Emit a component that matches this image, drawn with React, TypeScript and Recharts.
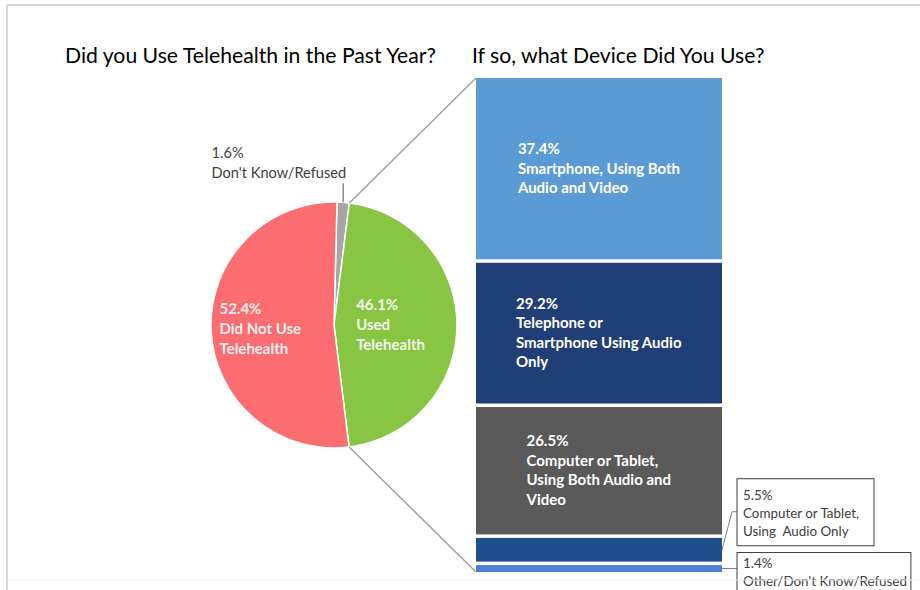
import React from 'react';
import { PieChart, Pie, Cell, BarChart, Bar, XAxis, YAxis, LabelList } from 'recharts';

// ---------- data ----------
const pieNames = ["Don't Know/Refused", 'Did Not Use\nTelehealth', 'Used\nTelehealth'];
const pieKeys = ['dk', 'notUsed', 'used'];
const pieValues = [1.6, 52.4, 46.1];
const pieColors = ['#A6A6A6', '#FB6D70', '#88C542'];

const deviceNames = [
  'Smartphone, Using Both\nAudio and Video',
  'Telephone or\nSmartphone Using Audio\nOnly',
  'Computer or Tablet,\nUsing Both Audio and\nVideo',
  'Computer or Tablet,\nUsing  Audio Only',
  "Other/Don't Know/Refused",
];
const deviceValues = [37.4, 29.2, 26.5, 5.5, 1.4];
const deviceColors = ['#5B9BD5', '#213F77', '#5A5A5A', '#1F4E8F', '#4F80D6'];

const titles = ['Did you Use Telehealth in the Past Year?', 'If so, what Device Did You Use?'];

// ---------- layout ----------
const W = 920;
const H = 590;
const FONT = 'Lato, "Open Sans", sans-serif';
const PIE_CX = 334;
const PIE_CY = 325;
const PIE_R = 123;
const PIE_START = 88.6;
const BAR_LEFT = 476;
const BAR_RIGHT = 722;
const BAR_TOP = 78;
const BAR_BOTTOM = 572;
const SEG_GAP = 3.5;
const RAD = Math.PI / 180;
const IN_FS = 15;

let ctxCache: CanvasRenderingContext2D | null = null;
const measure = (t: string, font: string) => {
  if (!ctxCache) ctxCache = document.createElement('canvas').getContext('2d');
  if (!ctxCache) return t.length * 7;
  ctxCache.font = font;
  return ctxCache.measureText(t).width;
};

const pct = (v: number) => `${v.toFixed(1)}%`;

// pie order: grey first (clockwise from top), then green, then red
const pieOrder = [0, 2, 1];
const pieData = pieOrder.map((i) => ({ key: pieKeys[i], name: pieNames[i], value: pieValues[i], color: pieColors[i] }));
const pieTotal = pieValues.reduce((a, b) => a + b, 0);

const polar = (angle: number, r: number) => ({
  x: PIE_CX + r * Math.cos(-angle * RAD),
  y: PIE_CY + r * Math.sin(-angle * RAD),
});

const renderPieLabel = (p: any) => {
  const { cx, cy, midAngle, outerRadius, index } = p;
  const d = pieData[index];
  const lines = [pct(d.value), ...d.name.split('\n')];
  if (d.key === 'dk') {
    const lx = cx + outerRadius * Math.cos(-midAngle * RAD);
    const ly = cy + outerRadius * Math.sin(-midAngle * RAD);
    const topY = ly - 19;
    const fs = 14.6;
    const font = `${fs}px ${FONT}`;
    const w = Math.max(...lines.map((l) => measure(l, font)));
    const x0 = lx + 3 - w;
    return (
      <g>
        <line x1={lx} y1={ly} x2={lx} y2={topY} stroke="#8c8c8c" strokeWidth={1.5} />
        {lines.map((l, i) => (
          <text key={i} x={x0} y={topY - 5 - (lines.length - 1 - i) * 20} fill="#404040" fontSize={fs} fontFamily={FONT}>
            {l}
          </text>
        ))}
      </g>
    );
  }
  const k = d.key === 'notUsed' ? 0.6 : 0.46;
  const c = { x: cx + outerRadius * k * Math.cos(-midAngle * RAD), y: cy + outerRadius * k * Math.sin(-midAngle * RAD) };
  const font = `bold ${IN_FS}px ${FONT}`;
  const w = Math.max(...lines.map((l) => measure(l, font)));
  const x0 = c.x - w / 2;
  const lh = 20;
  const first = c.y - ((lines.length - 1) * lh) / 2 + 5;
  return (
    <g>
      {lines.map((l, i) => (
        <text key={i} x={x0} y={first + i * lh} fill="#FFFFFF" fillOpacity={0.92} fontSize={IN_FS} fontWeight="bold" fontFamily={FONT}>
          {l}
        </text>
      ))}
    </g>
  );
};

// bar data: one stacked column
const barRow: Record<string, any> = { name: 'Used Telehealth' };
deviceValues.forEach((v, i) => {
  barRow[`d${i}`] = v;
});
const barData = [barRow];

const makeShape = (i: number) => (p: any) => {
  const { x, y, width, height } = p;
  const isBottom = i === deviceValues.length - 1;
  const h = isBottom ? height : Math.max(0, height - SEG_GAP);
  return <rect x={x} y={y} width={width} height={h} fill={deviceColors[i]} />;
};

const boxStyle: Record<number, { dy: number; padTop: number; h: number; padR: number }> = {
  3: { dy: -71, padTop: 21, h: 67, padR: 14 },
  4: { dy: -16, padTop: 15, h: 60, padR: 4 },
};

const makeLabel = (i: number) => (p: any) => {
  const vb = p.viewBox || p;
  const x = vb.x;
  const y = vb.y;
  const width = vb.width;
  const height = vb.height;
  const lines = [pct(deviceValues[i]), ...deviceNames[i].split('\n')];
  if (i < 3) {
    const font = `bold ${IN_FS}px ${FONT}`;
    const w = Math.max(...lines.map((l) => measure(l, font)));
    const x0 = x + width / 2 - w / 2;
    const lh = 19.5;
    const cyc = y + (height - SEG_GAP) / 2;
    const first = cyc - ((lines.length - 1) * lh) / 2 + 5;
    return (
      <g>
        {lines.map((l, j) => (
          <text key={j} x={x0} y={first + j * lh} fill="#FFFFFF" fontSize={IN_FS} fontWeight="bold" fontFamily={FONT} style={{ whiteSpace: 'pre' }}>
            {l}
          </text>
        ))}
      </g>
    );
  }
  const st = boxStyle[i];
  const segMid = y + (i === deviceValues.length - 1 ? height : height - SEG_GAP) / 2;
  const right = x + width;
  const boxX = right + 15;
  const boxTop = segMid + st.dy;
  const fs = 13.4;
  const font = `${fs}px ${FONT}`;
  const w = Math.max(...lines.map((l) => measure(l, font)));
  const boxW = w + 6 + st.padR;
  const boxMid = boxTop + 33;
  const leader =
    boxMid < segMid - 4
      ? `M${right},${segMid} L${right + 10},${boxMid} L${boxX},${boxMid}`
      : `M${right},${segMid} L${boxX},${segMid}`;
  return (
    <g>
      <path d={leader} fill="none" stroke="#7f7f7f" strokeWidth={1} />
      <rect x={boxX} y={boxTop} width={boxW} height={st.h} fill="#FFFFFF" stroke="#3f3f3f" strokeWidth={1} />
      {lines.map((l, j) => (
        <text key={j} x={boxX + 6} y={boxTop + st.padTop + j * 18} fill="#404040" fontSize={fs} fontFamily={FONT} style={{ whiteSpace: 'pre' }}>
          {l}
        </text>
      ))}
    </g>
  );
};

export default function App() {
  // connector end points derived from the pie data & bar extent
  const dkVal = pieValues[0];
  const usedVal = pieValues[2];
  const a1 = PIE_START - (dkVal / pieTotal) * 360;
  const a2 = a1 - (usedVal / pieTotal) * 360;
  const p1 = polar(a1, PIE_R);
  const p2 = polar(a2, PIE_R);

  const barOrderBottomUp = deviceValues.map((_, i) => i).reverse();

  return (
    <div style={{ position: 'relative', width: W, height: H, background: '#FFFFFF', fontFamily: FONT, overflow: 'hidden' }}>
      <style>{'body{margin:0;}'}</style>
      <div style={{ position: 'absolute', left: 0, top: 0 }}>
        <PieChart width={W} height={H} margin={{ top: 0, right: 0, bottom: 0, left: 0 }}>
          <Pie
            data={pieData}
            dataKey="value"
            nameKey="name"
            cx={PIE_CX}
            cy={PIE_CY}
            outerRadius={PIE_R}
            startAngle={PIE_START}
            endAngle={PIE_START - 360}
            stroke="#FFFFFF"
            strokeWidth={1.5}
            label={renderPieLabel}
            labelLine={false}
            isAnimationActive={false}
          >
            {pieData.map((d) => (
              <Cell key={d.key} fill={d.color} />
            ))}
          </Pie>
        </PieChart>
      </div>
      <div style={{ position: 'absolute', left: 0, top: 0 }}>
        <BarChart
          width={W}
          height={H}
          data={barData}
          margin={{ top: BAR_TOP, right: W - BAR_RIGHT, bottom: H - BAR_BOTTOM, left: BAR_LEFT }}
          barCategoryGap={0}
          barGap={0}
        >
          <XAxis dataKey="name" type="category" hide />
          <YAxis type="number" domain={[0, 100]} allowDataOverflow hide />
          {barOrderBottomUp.map((i) => (
            <Bar key={i} dataKey={`d${i}`} stackId="s" fill={deviceColors[i]} shape={makeShape(i)} isAnimationActive={false}>
              <LabelList dataKey={`d${i}`} content={makeLabel(i)} />
            </Bar>
          ))}
        </BarChart>
      </div>
      <svg width={W} height={H} style={{ position: 'absolute', left: 0, top: 0, pointerEvents: 'none' }}>
        <line x1={7} y1={5} x2={W} y2={5} stroke="#d6d6d6" strokeWidth={2} />
        <line x1={7} y1={5} x2={7} y2={H} stroke="#d6d6d6" strokeWidth={2} />
        <line x1={7} y1={580} x2={W} y2={580} stroke="#efefef" strokeWidth={1} />
        <line x1={p1.x} y1={p1.y} x2={BAR_LEFT} y2={BAR_TOP} stroke="#a0a0a0" strokeWidth={1.5} />
        <line x1={p2.x} y1={p2.y} x2={BAR_LEFT} y2={BAR_BOTTOM} stroke="#a0a0a0" strokeWidth={1.5} />
        <text x={65} y={63} fontSize={21.2} fontFamily={FONT} fill="#000000">
          {titles[0]}
        </text>
        <text x={472} y={63} fontSize={21.2} fontFamily={FONT} fill="#000000">
          {titles[1]}
        </text>
      </svg>
    </div>
  );
}
